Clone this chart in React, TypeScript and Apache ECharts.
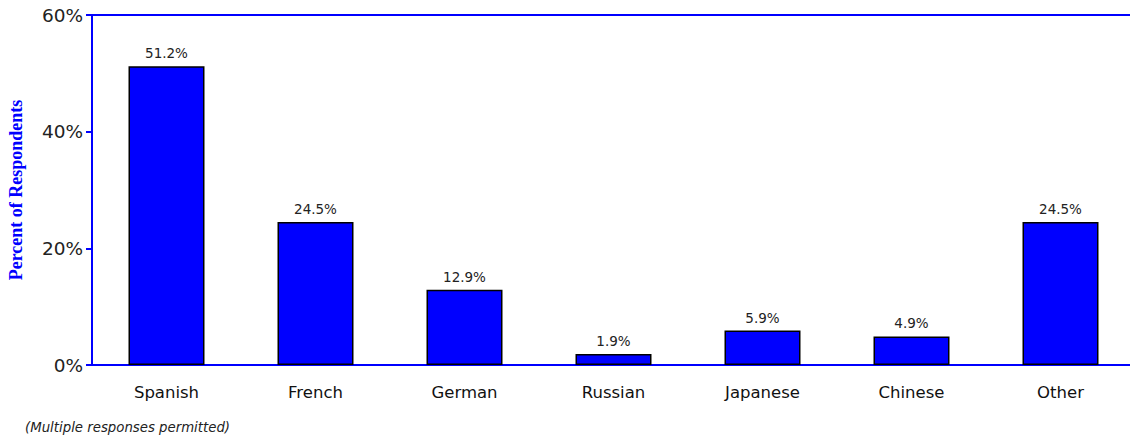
import React, { useEffect, useRef } from "react";
import * as echarts from "echarts";

const categories = ["Spanish", "French", "German", "Russian", "Japanese", "Chinese", "Other"];
const values = [51.2, 24.5, 12.9, 1.9, 5.9, 4.9, 24.5];
const yTicks = [0, 20, 40, 60];
const footnote = "(Multiple responses permitted)";
const yAxisTitle = "Percent of Respondents";

export default function App() {
  const ref = useRef<HTMLDivElement>(null);
  useEffect(() => {
    if (!ref.current) return;
    const chart = echarts.init(ref.current, null, { renderer: "svg" });
    const font = "Verdana, 'DejaVu Sans', sans-serif";
    chart.setOption({
      animation: false,
      grid: { left: 92, width: 1043, top: 15, bottom: 73, containLabel: false, outerBoundsMode: "none" },
      xAxis: [
        {
          type: "category",
          data: categories,
          axisLine: { show: true, lineStyle: { color: "#0000ff", width: 2 } },
          axisTick: { show: false },
          axisLabel: { color: "#111", fontSize: 16.5, fontFamily: font, margin: 19 },
        },
        {
          type: "category",
          position: "top",
          data: categories,
          axisLine: { show: true, lineStyle: { color: "#0000ff", width: 2 } },
          axisTick: { show: false },
          axisLabel: { show: false },
        },
      ],
      yAxis: {
        type: "value",
        min: yTicks[0],
        max: yTicks[yTicks.length - 1],
        interval: 20,
        name: yAxisTitle,
        nameLocation: "middle",
        nameGap: 67,
        nameTextStyle: {
          color: "#0000ff",
          fontFamily: "'Times New Roman', 'Liberation Serif', serif",
          fontWeight: "bold",
          fontSize: 18,
        },
        axisLine: { show: true, lineStyle: { color: "#0000ff", width: 2 } },
        axisTick: { show: true, length: 6, lineStyle: { color: "#0000ff", width: 2 } },
        axisLabel: {
          color: "#222",
          fontSize: 18.5,
          fontFamily: font,
          margin: 9,
          formatter: (v: number) => `${v}%`,
        },
        splitLine: { show: false },
      },
      series: [
        {
          type: "bar",
          data: values,
          barWidth: 76,
          itemStyle: { color: "#0000ff", borderColor: "#000", borderWidth: 1.5 },
          label: {
            show: true,
            position: "top",
            distance: 6,
            color: "#222",
            fontSize: 13.5,
            fontFamily: font,
            formatter: (p: any) => `${p.value.toFixed(1)}%`,
          },
        },
      ],
      graphic: [
        {
          type: "text",
          left: 25,
          top: 421,
          style: {
            text: footnote,
            fontSize: 13.3,
            fontStyle: "italic",
            fontFamily: font,
            fill: "#222",
          },
        },
      ],
    });
    return () => chart.dispose();
  }, []);
  return (
    <div
      ref={ref}
      style={{ position: "absolute", left: 0, top: 0, width: 1130, height: 438 }}
    />
  );
}
